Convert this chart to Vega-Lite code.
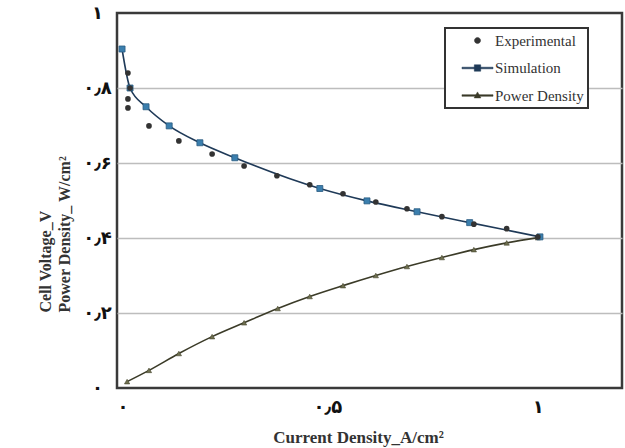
{
  "$schema": "https://vega.github.io/schema/vega-lite/v6.json",
  "autosize": {"type": "none"},
  "padding": {"left": 117, "top": 13, "right": 3, "bottom": 60},
  "width": 505,
  "height": 375,
  "background": "white",
  "config": {
    "view": {"stroke": "#3a3a3a", "strokeWidth": 2.5},
    "axis": {"labelFont": "DejaVu Sans", "labelFontWeight": "bold", "labelColor": "#111", "titleFont": "Liberation Serif", "titleFontWeight": "bold", "titleColor": "#333"}
  },
  "datasets": {
    "pts": [
      {"series": "Experimental", "x": 0.026, "y": 0.840},
      {"series": "Experimental", "x": 0.031, "y": 0.800},
      {"series": "Experimental", "x": 0.026, "y": 0.771},
      {"series": "Experimental", "x": 0.026, "y": 0.747},
      {"series": "Experimental", "x": 0.076, "y": 0.699},
      {"series": "Experimental", "x": 0.147, "y": 0.659},
      {"series": "Experimental", "x": 0.226, "y": 0.624},
      {"series": "Experimental", "x": 0.302, "y": 0.592},
      {"series": "Experimental", "x": 0.380, "y": 0.566},
      {"series": "Experimental", "x": 0.458, "y": 0.542},
      {"series": "Experimental", "x": 0.537, "y": 0.518},
      {"series": "Experimental", "x": 0.615, "y": 0.496},
      {"series": "Experimental", "x": 0.689, "y": 0.478},
      {"series": "Experimental", "x": 0.772, "y": 0.457},
      {"series": "Experimental", "x": 0.848, "y": 0.437},
      {"series": "Experimental", "x": 0.926, "y": 0.425},
      {"series": "Experimental", "x": 1.000, "y": 0.403},
      {"series": "Simulation", "x": 0.012, "y": 0.904},
      {"series": "Simulation", "x": 0.031, "y": 0.800},
      {"series": "Simulation", "x": 0.069, "y": 0.750},
      {"series": "Simulation", "x": 0.124, "y": 0.699},
      {"series": "Simulation", "x": 0.197, "y": 0.654},
      {"series": "Simulation", "x": 0.280, "y": 0.614},
      {"series": "Simulation", "x": 0.482, "y": 0.532},
      {"series": "Simulation", "x": 0.594, "y": 0.499},
      {"series": "Simulation", "x": 0.713, "y": 0.470},
      {"series": "Simulation", "x": 0.838, "y": 0.441},
      {"series": "Simulation", "x": 1.005, "y": 0.403},
      {"series": "Power Density", "x": 0.024, "y": 0.017},
      {"series": "Power Density", "x": 0.076, "y": 0.047},
      {"series": "Power Density", "x": 0.147, "y": 0.092},
      {"series": "Power Density", "x": 0.226, "y": 0.137},
      {"series": "Power Density", "x": 0.302, "y": 0.174},
      {"series": "Power Density", "x": 0.382, "y": 0.212},
      {"series": "Power Density", "x": 0.458, "y": 0.244},
      {"series": "Power Density", "x": 0.537, "y": 0.273},
      {"series": "Power Density", "x": 0.615, "y": 0.300},
      {"series": "Power Density", "x": 0.689, "y": 0.324},
      {"series": "Power Density", "x": 0.772, "y": 0.348},
      {"series": "Power Density", "x": 0.848, "y": 0.369},
      {"series": "Power Density", "x": 0.926, "y": 0.387},
      {"series": "Power Density", "x": 1.000, "y": 0.401}
    ]
  },
  "data": {"name": "pts"},
  "encoding": {
    "x": {
      "field": "x", "type": "quantitative",
      "scale": {"domain": [0, 1.2], "nice": false, "zero": false},
      "axis": {
        "values": [0, 0.5, 1], "grid": false, "ticks": false, "domain": false,
        "labelFontSize": 18, "labelPadding": 10,
        "labelExpr": "datum.value == 0 ? '۰' : datum.value == 1 ? '۱' : '۰٫۵'",
        "title": "Current Density_A/cm²", "titleFontSize": 17,
        "titleX": 241, "titleY": 49, "titleAnchor": null, "titleAlign": "center", "titleBaseline": "middle"
      }
    },
    "y": {
      "field": "y", "type": "quantitative",
      "scale": {"domain": [0, 1], "nice": false},
      "axis": {
        "values": [0, 0.2, 0.4, 0.6, 0.8, 1], "grid": true, "gridColor": "#bdbdbd", "gridWidth": 1.5,
        "gridOpacity": {"condition": {"test": "datum.value == 0 || datum.value == 1", "value": 0}, "value": 1},
        "ticks": false, "domain": false,
        "labelFontSize": 18, "labelPadding": 20, "labelAlign": "center",
        "labelExpr": "datum.value == 0 ? '۰' : datum.value == 1 ? '۱' : datum.value < 0.3 ? '۰٫۲' : datum.value < 0.5 ? '۰٫۴' : datum.value < 0.7 ? '۰٫۶' : '۰٫۸'",
        "title": ["Cell Voltage_V", "Power Density_ W/cm²"], "titleFontSize": 16, "titleLineHeight": 19,
        "titleAngle": 270, "titleX": -80, "titleY": 299, "titleAlign": "left", "titleBaseline": "top", "titleAnchor": null
      }
    }
  },
  "layer": [
    {
      "transform": [{"filter": "datum.series == 'Power Density'"}],
      "mark": {"type": "line", "interpolate": "monotone", "strokeWidth": 1.6},
      "encoding": {
        "color": {
          "field": "series", "type": "nominal",
          "scale": {"domain": ["Experimental", "Simulation", "Power Density"], "range": ["#333333", "#1f3a58", "#3b3b28"]},
          "legend": {
            "orient": "none", "legendX": 328, "legendY": 15, "title": null,
            "padding": 4, "symbolSize": 256, "symbolOffset": 20, "labelOffset": 9, "rowPadding": 10.5,
            "labelFont": "Liberation Serif", "labelFontSize": 15, "labelColor": "#333",
            "labelExpr": "datum.label + '\u00a0\u00a0\u00a0\u00a0\u00a0\u00a0\u00a0\u00a0'",
            "strokeColor": "#333", "fillColor": "white",
            "encode": {
              "legend": {"update": {"strokeWidth": {"value": 2}}},
              "symbols": {"update": {
                "shape": {"signal": "datum.value == 'Experimental' ? 'M-0.38,0A0.38,0.38,0,1,0,0.38,0A0.38,0.38,0,1,0,-0.38,0Z' : datum.value == 'Simulation' ? 'M-1.94,-0.1H1.94V0.1H-1.94Z M-0.4,-0.4H0.4V0.4H-0.4Z' : 'M-1.94,-0.1H1.94V0.1H-1.94Z M0,-0.45L0.42,0.3L-0.42,0.3Z'"},
                "fill": {"signal": "datum.value == 'Experimental' ? '#333333' : datum.value == 'Simulation' ? '#3f6fa0' : '#6f7040'"},
                "stroke": {"signal": "datum.value == 'Experimental' ? '#333333' : datum.value == 'Simulation' ? '#2b4a6a' : '#55552f'"},
                "strokeWidth": {"value": 0.5},
                "opacity": {"value": 1},
                "fillOpacity": {"value": 1}
              }}
            }
          }
        }
      }
    },
    {
      "transform": [{"filter": "datum.series == 'Power Density'"}],
      "mark": {"type": "point", "shape": "triangle-up", "filled": true, "size": 28, "fill": "#6f7050", "stroke": "#45452e", "strokeWidth": 0.6, "opacity": 1}
    },
    {
      "transform": [{"filter": "datum.series == 'Simulation'"}],
      "mark": {"type": "line", "interpolate": "monotone", "strokeWidth": 1.6},
      "encoding": {"color": {"field": "series", "type": "nominal"}}
    },
    {
      "transform": [{"filter": "datum.series == 'Simulation'"}],
      "mark": {"type": "point", "shape": "square", "filled": true, "size": 36, "fill": "#3b7fae", "stroke": "#2a5a80", "strokeWidth": 0.8, "opacity": 1}
    },
    {
      "transform": [{"filter": "datum.series == 'Experimental'"}],
      "mark": {"type": "point", "shape": "circle", "filled": true, "size": 32, "opacity": 1},
      "encoding": {"color": {"field": "series", "type": "nominal"}}
    }
  ]
}
